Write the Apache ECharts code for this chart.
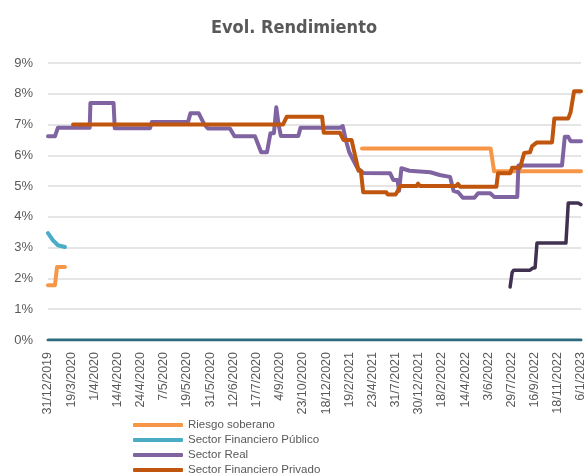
<!DOCTYPE html>
<html>
<head>
<meta charset="utf-8">
<title>Evol. Rendimiento</title>
<script src="https://cdn.jsdelivr.net/npm/echarts@6/dist/echarts.min.js"></script>
<style>
    html, body { margin: 0; padding: 0; background: #fff; }
    #chart { width: 588px; height: 474px; }
</style>
</head>
<body>
<div id="chart"></div>
<script>
// etiquetas del eje x (una por marca)
var tickLabels = ['31/12/2019', '19/3/2020', '1/4/2020', '14/4/2020', '24/4/2020', '7/5/2020',
    '19/5/2020', '31/5/2020', '12/6/2020', '17/7/2020', '4/9/2020', '23/10/2020', '18/12/2020',
    '19/2/2021', '23/4/2021', '31/7/2021', '30/12/2021', '18/2/2022', '14/4/2022', '3/6/2022',
    '29/7/2022', '16/9/2022', '18/11/2022', '6/1/2023'];

// [posicion en marcas, rendimiento %]
var riesgoSoberano = [[0, 1.78], [0.3, 1.78], [0.39, 2.37], [0.73, 2.37], [6, '-'],
    [13.55, 6.22], [19.1, 6.22], [19.25, 5.48], [23, 5.48]];

var sectorFinPublico = [[0, 3.47], [0.2, 3.25], [0.43, 3.08], [0.73, 3.02]];

var sectorReal = [[0, 6.62], [0.3, 6.62], [0.43, 6.9], [1.8, 6.9], [1.83, 7.7], [2.83, 7.7],
    [2.88, 6.88], [4.4, 6.88], [4.48, 7.08], [6.04, 7.08], [6.15, 7.37], [6.5, 7.37], [6.75, 7.0],
    [6.9, 6.87], [7.85, 6.87], [8.05, 6.62], [8.93, 6.62], [9.2, 6.1], [9.45, 6.1], [9.6, 6.72],
    [9.75, 6.72], [9.85, 7.56], [9.95, 7.0], [10.05, 6.63], [10.8, 6.63], [10.9, 6.9], [12.6, 6.9],
    [12.72, 6.95], [12.85, 6.5], [13.0, 6.1], [13.34, 5.6], [13.6, 5.43], [14.76, 5.42],
    [14.9, 5.2], [15.08, 5.2], [15.15, 4.85], [15.25, 5.58], [15.6, 5.5], [16.5, 5.45],
    [16.9, 5.36], [17.35, 5.3], [17.5, 4.85], [17.7, 4.8], [17.9, 4.62], [18.4, 4.62],
    [18.56, 4.77], [19.08, 4.77], [19.25, 4.65], [20.25, 4.65], [20.3, 5.67], [22.18, 5.67],
    [22.3, 6.6], [22.45, 6.6], [22.55, 6.46], [23, 6.46]];

var sectorFinPrivado = [[1.08, 7.0], [10.14, 7.0], [10.3, 7.25], [11.83, 7.25], [11.9, 6.73],
    [12.6, 6.73], [12.75, 6.5], [13.1, 6.5], [13.25, 6.0], [13.4, 5.5], [13.5, 5.5], [13.6, 4.8],
    [14.6, 4.8], [14.65, 4.73], [15.0, 4.73], [15.1, 4.86], [15.2, 5.0], [15.9, 5.0],
    [15.97, 5.08], [16.05, 5.0], [17.6, 5.0], [17.69, 5.07], [17.78, 4.98], [19.35, 4.98],
    [19.42, 5.42], [19.95, 5.42], [20.03, 5.6], [20.37, 5.6], [20.55, 6.08], [20.8, 6.1],
    [20.89, 6.3], [21.1, 6.42], [21.75, 6.42], [21.85, 7.2], [22.45, 7.2], [22.55, 7.4],
    [22.7, 8.08], [23, 8.08]];

var sectorQuinto = [[19.94, 1.72], [20.03, 2.2], [20.1, 2.27], [20.8, 2.27], [20.9, 2.33],
    [21.02, 2.35], [21.1, 3.15], [22.35, 3.15], [22.45, 4.45], [22.87, 4.45], [23, 4.4]];

var serieCero = [[0, 0], [23, 0]];

var legendNames = ['Riesgo soberano', 'Sector Financiero Público', 'Sector Real', 'Sector Financiero Privado'];

var textColor = '#595959';
var narrowFont = "'Liberation Sans Narrow', 'DejaVu Sans Condensed', 'Liberation Sans', sans-serif";
var baseFont = "'Liberation Sans', Arial, sans-serif";

function lineSerie(name, data, color, width) {
    return {
        name: name,
        type: 'line',
        data: data,
        symbol: 'none',
        connectNulls: false,
        lineStyle: { color: color, width: width, cap: 'round', join: 'round' },
        itemStyle: { color: color }
    };
}

var chart = echarts.init(document.getElementById('chart'));
chart.setOption({
    animation: false,
    title: {
        text: 'Evol. Rendimiento',
        left: 'center',
        top: 14,
        textStyle: {
            fontFamily: narrowFont,
            fontSize: 18,
            fontWeight: 'bold',
            color: textColor
        }
    },
    legend: {
        data: legendNames,
        orient: 'vertical',
        left: 128,
        top: 413,
        height: 120,
        itemWidth: 50,
        itemHeight: 4,
        itemGap: 1,
        icon: 'roundRect',
        textStyle: {
            fontFamily: baseFont,
            fontSize: 11.5,
            lineHeight: 14,
            color: textColor
        }
    },
    grid: {
        left: 48,
        right: 7,
        top: 63,
        bottom: 134,
        containLabel: false
    },
    xAxis: {
        type: 'value',
        min: 0,
        max: 23,
        interval: 1,
        axisLine: { show: false },
        axisTick: { show: false },
        splitLine: { show: false },
        axisLabel: {
            rotate: 90,
            margin: 12,
            fontFamily: baseFont,
            fontSize: 12.5,
            color: textColor,
            showMinLabel: true,
            showMaxLabel: true,
            formatter: function (v) {
                return tickLabels[Math.round(v)] || '';
            }
        }
    },
    yAxis: {
        type: 'value',
        min: 0,
        max: 9,
        interval: 1,
        axisLine: { show: false },
        axisTick: { show: false },
        splitLine: { lineStyle: { color: '#DCDCDC', width: 1.5 } },
        axisLabel: {
            margin: 15,
            fontFamily: baseFont,
            fontSize: 13,
            color: textColor,
            formatter: '{value}%'
        }
    },
    series: [
        lineSerie('Serie cero', serieCero, '#2B6C80', 3),
        lineSerie('Sector Financiero Público', sectorFinPublico, '#4BACC6', 4),
        lineSerie('Riesgo soberano', riesgoSoberano, '#F79646', 4),
        lineSerie('Sector Real', sectorReal, '#8064A2', 4),
        lineSerie('Serie quinta', sectorQuinto, '#403151', 3.5),
        lineSerie('Sector Financiero Privado', sectorFinPrivado, '#C0560E', 4)
    ]
});
</script>
</body>
</html>
